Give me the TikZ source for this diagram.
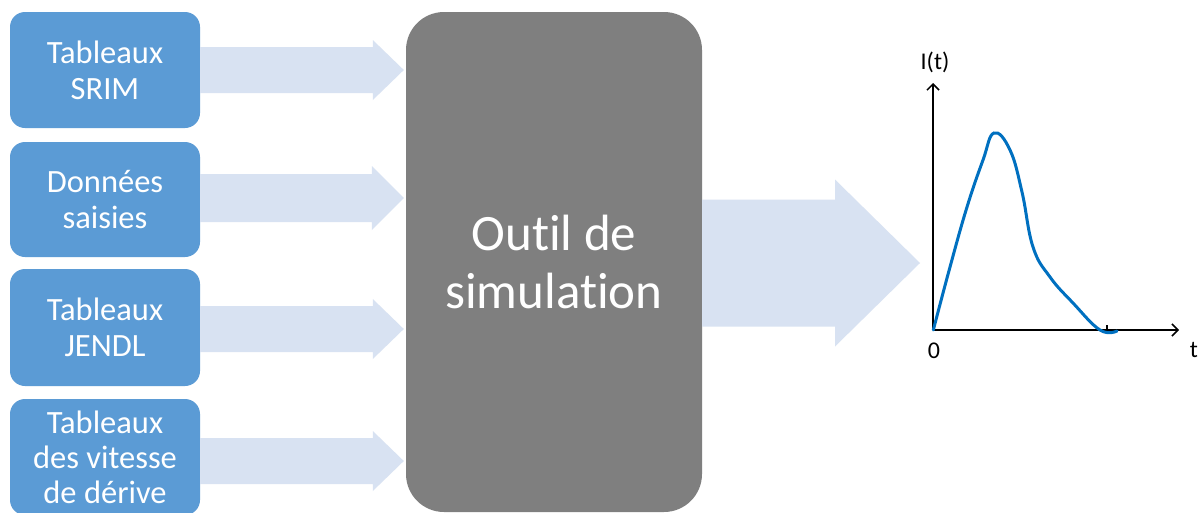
\documentclass[tikz,border=0pt]{standalone}
\usepackage{fontspec}
\setmainfont[Ligatures=NoCommon]{Carlito}
\usetikzlibrary{calc,arrows.meta}
\definecolor{boxblue}{RGB}{91,155,213}
\definecolor{arrowblue}{RGB}{216,226,242}
\definecolor{simgray}{RGB}{127,127,127}
\definecolor{curveblue}{RGB}{0,112,192}
\newcommand\fatarrow[5]{%
  \fill[arrowblue] ($(#1)+(0,#3)$) -- ($(#2)+(-#5,#3)$) -- ($(#2)+(-#5,#4)$) -- (#2)
    -- ($(#2)+(-#5,-#4)$) -- ($(#2)+(-#5,-#3)$) -- ($(#1)+(0,-#3)$) -- cycle;}
\tikzset{
  inbox/.style={fill=boxblue, rounded corners=15pt, minimum width=190pt, minimum height=116pt,
    inner sep=0pt, text=white, align=center, font=\fontsize{32.5}{36}\selectfont},
  simbox/.style={fill=simgray, rounded corners=38pt, minimum width=296pt, minimum height=500pt,
    inner sep=0pt, text=white, align=center, font=\fontsize{51}{58}\selectfont},
  axis/.style={line width=1.5pt, -{Straight Barb[length=6pt,width=12pt]}},
  axlabel/.style={font=\fontsize{24}{28}\selectfont, inner sep=0pt}
}
\begin{document}
\begin{tikzpicture}[x=1pt,y=-1pt]
\clip (0,0) rectangle (1202,512);
\fill[white] (0,0) rectangle (1202,512);
% input boxes
\node[inbox] (b1) at (105,70) {Tableaux\\SRIM};
\node[inbox, minimum height=115pt] (b2) at (105,199.5) {Données\\saisies};
\node[inbox, minimum height=117pt] (b3) at (105,327.5) {Tableaux\\JENDL};
\node[inbox, font=\fontsize{32.5}{35}\selectfont] (b4) at (105,457) {Tableaux\\des vitesse\\de dérive};
% simulation box
\node[simbox] (sim) at (554,262) {Outil de\\simulation};
% block arrows
\coordinate (t1) at ($(sim.west |- b1.east)+(-2,0)$);
\coordinate (t2) at ($(sim.west |- b2.east)+(-2,-1.5)$);
\coordinate (t3) at ($(sim.west |- b3.east)+(-2,1.5)$);
\coordinate (t4) at ($(sim.west |- b4.east)+(-2,4)$);
\coordinate (s4) at ($(b4.east)+(0,4)$);
\coordinate (s2) at ($(b2.east)+(0,-1.5)$);
\coordinate (s3) at ($(b3.east)+(0,1.5)$);
\fatarrow{b1.east}{t1}{23}{30}{31}
\fatarrow{s2}{t2}{24}{32}{32}
\fatarrow{s3}{t3}{23}{30}{31}
\fatarrow{s4}{t4}{23}{30}{31}
\coordinate (out) at (920,263);
\coordinate (outs) at ($(sim.east)+(0,1)$);
\fatarrow{outs}{out}{63.5}{83.5}{85}
% plot
\coordinate (O) at (933,330);
\coordinate (ytop) at (933,83);
\coordinate (xend) at (1179,330);
\draw[axis] (O) -- (ytop);
\draw[axis] (O) -- (xend);
\draw[line width=1.2pt] (1107,325) -- (1107,330);
\draw[curveblue, line width=3pt, line cap=round] plot[smooth, tension=0.7] coordinates {
 (933.3,330) (950,267) (967,207) (983,160) (994,133) (1010,150)
 (1022,192) (1033,247) (1050,277) (1073,303) (1100,330) (1117,331)};
\node[axlabel] (ylab) at (935,62) {I(t)};
\node[axlabel] (zero) at (934,351) {0};
\node[axlabel] (tlab) at (1194,350) {t};
\end{tikzpicture}
\end{document}
